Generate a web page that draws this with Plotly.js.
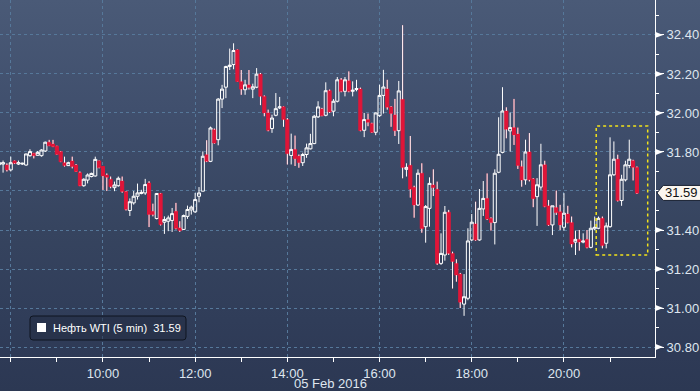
<!DOCTYPE html>
<html>
<head>
<meta charset="utf-8">
<script src="https://cdn.plot.ly/plotly-3.0.1.min.js"></script>
<style>
html, body { margin:0; padding:0; width:700px; height:391px; overflow:hidden;
  background: linear-gradient(to bottom, #4a5a77 0px, #3f4e6c 120px, #36445f 230px, #303d59 320px, #2e3a56 357px, #2c3853 391px); }
#chart { width:700px; height:391px; }
</style>
</head>
<body>
<div id="chart"></div>
<script>
// 5-minute candles, WTI crude, 05 Feb 2016, starting 07:45
const startMinute = 7 * 60 + 45;
const stepMinutes = 5;
const open = [31.735,31.738,31.733,31.708,31.754,31.738,31.738,31.733,31.781,31.793,31.783,31.781,31.805,31.85,31.841,31.83,31.802,31.745,31.73,31.754,
31.733,31.694,31.627,31.656,31.674,31.677,31.754,31.725,31.682,31.66,31.617,31.627,31.651,31.597,31.50,31.539,31.573,31.587,31.59,31.641,
31.496,31.459,31.587,31.44,31.445,31.449,31.496,31.411,31.403,31.47,31.503,31.493,31.573,31.599,31.786,31.752,31.914,31.863,32.071,32.132,
32.238,32.248,32.323,32.161,32.119,32.144,32.122,32.132,32.199,32.085,32.0,31.92,31.988,32.026,32.031,31.966,31.782,31.813,31.779,31.745,
31.787,31.816,31.843,31.98,32.02,31.988,32.114,32.009,32.06,32.17,32.111,32.165,32.111,32.12,32.123,31.911,31.966,31.946,31.901,31.986,
32.09,32.123,32.031,31.99,31.909,32.07,31.711,31.732,31.619,31.528,31.691,31.417,31.511,31.631,31.609,31.229,31.272,31.491,31.28,31.229,
31.174,31.02,31.05,31.349,31.431,31.349,31.508,31.562,31.46,31.438,31.696,31.798,32.01,31.908,31.925,31.892,31.725,31.657,31.80,31.662,
31.571,31.62,31.734,31.524,31.426,31.515,31.494,31.414,31.482,31.438,31.338,31.352,31.338,31.352,31.311,31.406,31.409,31.46,31.332,31.417,
31.683,31.763,31.551,31.657,31.731,31.755,31.721];
const high = [31.76,31.756,31.742,31.776,31.756,31.756,31.745,31.79,31.814,31.795,31.805,31.814,31.853,31.862,31.862,31.832,31.805,31.776,31.75,31.776,
31.738,31.70,31.665,31.69,31.694,31.776,31.756,31.725,31.69,31.674,31.648,31.674,31.674,31.60,31.562,31.60,31.638,31.606,31.662,31.65,
31.535,31.59,31.59,31.47,31.474,31.513,31.539,31.445,31.479,31.525,31.525,31.59,31.62,31.803,31.86,31.93,31.92,32.076,32.144,32.242,
32.33,32.357,32.325,32.22,32.17,32.22,32.15,32.23,32.205,32.09,32.017,31.991,32.102,32.082,32.033,31.974,31.894,31.884,31.787,31.796,
31.843,31.893,31.99,32.06,32.026,32.157,32.12,32.071,32.184,32.179,32.184,32.213,32.162,32.17,32.13,32.0,31.997,31.95,32.003,32.145,
32.221,32.17,32.035,32.072,32.164,32.45,31.742,31.882,31.627,31.711,31.742,31.528,31.67,31.711,31.648,31.383,31.523,31.503,31.289,31.25,
31.18,31.174,31.409,31.482,31.545,31.61,31.651,31.69,31.465,31.711,31.978,32.132,32.029,32.002,32.072,31.925,31.756,31.863,31.897,31.666,
31.666,31.842,31.755,31.554,31.524,31.602,31.529,31.589,31.524,31.469,31.397,31.40,31.383,31.40,31.448,31.469,31.469,31.469,31.438,31.875,
31.854,31.786,31.683,31.755,31.863,31.76,31.726];
const low = [31.72,31.694,31.70,31.70,31.738,31.733,31.733,31.73,31.776,31.767,31.781,31.776,31.80,31.83,31.825,31.786,31.748,31.725,31.728,31.716,
31.698,31.625,31.622,31.639,31.67,31.674,31.716,31.605,31.60,31.614,31.599,31.622,31.591,31.50,31.472,31.53,31.556,31.583,31.58,31.415,
31.47,31.454,31.423,31.38,31.394,31.39,31.403,31.39,31.40,31.457,31.479,31.488,31.542,31.599,31.748,31.748,31.843,31.834,32.025,32.076,
32.22,32.224,32.16,32.093,32.093,32.12,32.076,32.127,32.04,31.983,31.906,31.898,31.983,32.02,31.929,31.736,31.736,31.728,31.719,31.728,
31.77,31.813,31.84,31.974,31.983,31.983,32.0,31.983,32.054,32.106,32.085,32.106,32.085,32.111,31.906,31.876,31.932,31.898,31.886,31.98,
31.997,32.017,31.929,31.882,31.841,31.665,31.674,31.566,31.463,31.523,31.386,31.335,31.417,31.574,31.221,31.221,31.243,31.272,31.10,31.135,
31.0,30.96,31.04,31.344,31.345,31.345,31.472,31.451,31.397,31.326,31.691,31.793,31.87,31.802,31.836,31.713,31.622,31.632,31.649,31.517,
31.421,31.606,31.517,31.421,31.374,31.477,31.40,31.397,31.434,31.311,31.272,31.294,31.332,31.306,31.306,31.40,31.404,31.306,31.306,31.412,
31.678,31.546,31.524,31.649,31.717,31.654,31.585];
const close = [31.745,31.745,31.708,31.745,31.742,31.745,31.742,31.79,31.802,31.781,31.798,31.81,31.85,31.832,31.827,31.788,31.75,31.73,31.745,31.725,
31.70,31.627,31.66,31.682,31.69,31.762,31.72,31.677,31.67,31.622,31.631,31.665,31.597,31.506,31.545,31.573,31.59,31.593,31.633,31.479,
31.479,31.587,31.428,31.454,31.462,31.484,31.408,31.397,31.474,31.505,31.517,31.556,31.59,31.778,31.752,31.923,31.846,32.071,32.122,32.238,
32.245,32.32,32.161,32.122,32.144,32.13,32.134,32.199,32.085,32.0,31.911,31.974,32.022,32.031,31.966,31.791,31.813,31.765,31.745,31.787,
31.821,31.843,31.983,32.031,31.986,32.114,32.005,32.06,32.17,32.111,32.17,32.111,32.116,32.125,31.91,31.966,31.952,31.901,32.0,32.09,
32.133,32.029,31.997,31.909,32.113,31.72,31.721,31.609,31.528,31.691,31.407,31.52,31.639,31.617,31.229,31.28,31.491,31.28,31.238,31.169,
31.03,31.058,31.344,31.44,31.349,31.511,31.562,31.456,31.438,31.691,31.788,32.01,31.916,31.925,31.887,31.73,31.656,31.80,31.657,31.56,
31.632,31.734,31.52,31.426,31.524,31.489,31.426,31.486,31.438,31.328,31.352,31.338,31.343,31.311,31.409,31.414,31.46,31.32,31.421,31.683,
31.763,31.551,31.66,31.734,31.763,31.721,31.589];

const yTickVals = [30.8, 31.0, 31.2, 31.4, 31.6, 31.8, 32.0, 32.2, 32.4];
const yTickText = ['30.80', '31.00', '31.20', '31.40', '', '31.80', '32.00', '32.20', '32.40'];
const yMinorVals = [30.9, 31.1, 31.3, 31.5, 31.7, 31.9, 32.1, 32.3, 32.5];
const xTickVals = ['2016-02-05 08:00', '2016-02-05 10:00', '2016-02-05 12:00', '2016-02-05 14:00', '2016-02-05 16:00', '2016-02-05 18:00', '2016-02-05 20:00'];
const xTickText = ['', '10:00', '12:00', '14:00', '16:00', '18:00', '20:00'];
const seriesName = 'Нефть WTI (5 min)';
const lastPrice = 31.59;
const dateLabel = '05 Feb 2016';
const highlightBox = { t0: '2016-02-05 20:42', t1: '2016-02-05 21:49', p0: 31.272, p1: 31.933 };

function fmt(m) {
  const h = Math.floor(m / 60), mm = m % 60;
  return '2016-02-05 ' + String(h).padStart(2, '0') + ':' + String(mm).padStart(2, '0');
}
const times = open.map((_, i) => fmt(startMinute + stepMinutes * i));

// white wicks for falling candles (drawn only outside the body, on top)
const wx = [], wy = [];
for (let i = 0; i < open.length; i++) {
  if (close[i] < open[i]) {
    if (high[i] > open[i]) { wx.push(times[i], times[i], null); wy.push(open[i], high[i], null); }
    if (low[i] < close[i]) { wx.push(times[i], times[i], null); wy.push(low[i], close[i], null); }
  }
}

const RED = '#e01538';
const traces = [
  { type: 'candlestick', x: times, open: open, high: high, low: low, close: close,
    increasing: { line: { color: '#ffffff', width: 1 }, fillcolor: 'rgba(0,0,0,0)' },
    decreasing: { line: { color: RED, width: 1 }, fillcolor: RED },
    whiskerwidth: 0, showlegend: false, hoverinfo: 'skip' },
  { type: 'scatter', mode: 'lines', x: wx, y: wy, line: { color: '#ffffff', width: 1 }, hoverinfo: 'skip', showlegend: false }
];

const yr = [30.749, 32.579];
const shapes = [];
const triH = 3.2 / 195;
yTickVals.forEach((v, i) => {
  if (!yTickText[i]) return;
  shapes.push({ type: 'path', xref: 'paper', yref: 'y', layer: 'above',
    path: `M 1,${v + triH} L 1.0125,${v} L 1,${v - triH} Z`, fillcolor: '#ffffff', line: { width: 0 } });
});
const tagH = 7.5 / 195;
shapes.push({ type: 'path', xref: 'paper', yref: 'y', layer: 'above',
  path: `M 1.003,${lastPrice} L 1.0125,${lastPrice + tagH} L 1.075,${lastPrice + tagH} L 1.075,${lastPrice - tagH} L 1.0125,${lastPrice - tagH} Z`,
  fillcolor: '#fbf6ef', line: { color: '#1a2233', width: 1 } });
shapes.push({ type: 'rect', xref: 'x', yref: 'y', x0: highlightBox.t0, x1: highlightBox.t1, y0: highlightBox.p0, y1: highlightBox.p1,
  line: { color: '#f2e21a', width: 1.5, dash: 'dot' }, fillcolor: 'rgba(0,0,0,0)', layer: 'above' });
const lx0 = 30 / 655, lx1 = 186 / 655, ly0 = (357 - 340) / 357, ly1 = (357 - 316) / 357;
const rx = 3 / 655, ry = 3 / 357;
shapes.push({ type: 'path', xref: 'paper', yref: 'paper', layer: 'above',
  path: `M ${lx0 + rx},${ly0} L ${lx1 - rx},${ly0} Q ${lx1},${ly0} ${lx1},${ly0 + ry} L ${lx1},${ly1 - ry} Q ${lx1},${ly1} ${lx1 - rx},${ly1} L ${lx0 + rx},${ly1} Q ${lx0},${ly1} ${lx0},${ly1 - ry} L ${lx0},${ly0 + ry} Q ${lx0},${ly0} ${lx0 + rx},${ly0} Z`,
  fillcolor: 'rgba(34,44,66,0.55)', line: { color: '#0f1520', width: 1 } });
shapes.push({ type: 'rect', xref: 'paper', yref: 'paper', layer: 'above',
  x0: 37 / 655, x1: 46 / 655, y0: (357 - 332) / 357, y1: (357 - 323) / 357, fillcolor: '#ffffff', line: { width: 0 } });

const FONT = 'Liberation Sans, Arial, sans-serif';
const annotations = [
  { xref: 'paper', yref: 'paper', x: 51 / 655, y: (357 - 328) / 357, xanchor: 'left', yanchor: 'middle', showarrow: false,
    text: seriesName + '  ' + lastPrice.toFixed(2), font: { family: FONT, size: 11, color: '#ffffff' } },
  { xref: 'paper', yref: 'y', x: 681 / 655, y: lastPrice, xanchor: 'center', yanchor: 'middle', showarrow: false,
    text: lastPrice.toFixed(2), font: { family: FONT, size: 13, color: '#111111' } },
  { xref: 'paper', yref: 'paper', x: 292 / 655, y: -(383 - 357) / 357, xanchor: 'left', yanchor: 'middle', showarrow: false,
    text: dateLabel, font: { family: FONT, size: 13, color: '#dfe6ef' } }
];

const layout = {
  width: 700, height: 391,
  margin: { l: 0, r: 45, t: 0, b: 34, pad: 0 },
  paper_bgcolor: 'rgba(0,0,0,0)', plot_bgcolor: 'rgba(0,0,0,0)',
  showlegend: false,
  boxgap: 0.2, boxgroupgap: 0,
  xaxis: {
    type: 'date', range: ['2016-02-05 07:46', '2016-02-05 21:58:30'],
    rangeslider: { visible: false },
    showline: true, linecolor: '#ffffff', linewidth: 1,
    ticks: 'outside', ticklen: 4, tickcolor: '#ffffff', tickwidth: 1,
    tickvals: xTickVals, ticktext: xTickText,
    tickfont: { family: FONT, size: 13, color: '#dfe6ef' },
    showgrid: true, gridcolor: '#56789a', gridwidth: 1, griddash: '3px,3px',
    minor: { dtick: 3600000, ticks: 'outside', ticklen: 4, tickcolor: '#ffffff', showgrid: false },
    zeroline: false, fixedrange: true
  },
  yaxis: {
    side: 'right', range: yr,
    showline: true, linecolor: '#ffffff', linewidth: 1,
    ticks: 'outside', ticklen: 8, tickcolor: '#ffffff', tickwidth: 1,
    tickvals: yTickVals, ticktext: yTickText,
    tickfont: { family: FONT, size: 13, color: '#dfe6ef' },
    showgrid: true, gridcolor: '#56789a', gridwidth: 1, griddash: '3px,3px',
    minor: { tickvals: yMinorVals, ticks: 'outside', ticklen: 3, tickcolor: '#ffffff', showgrid: false },
    zeroline: false, fixedrange: true
  },
  shapes: shapes,
  annotations: annotations
};

Plotly.newPlot('chart', traces, layout, { displayModeBar: false, staticPlot: true });
</script>
</body>
</html>
